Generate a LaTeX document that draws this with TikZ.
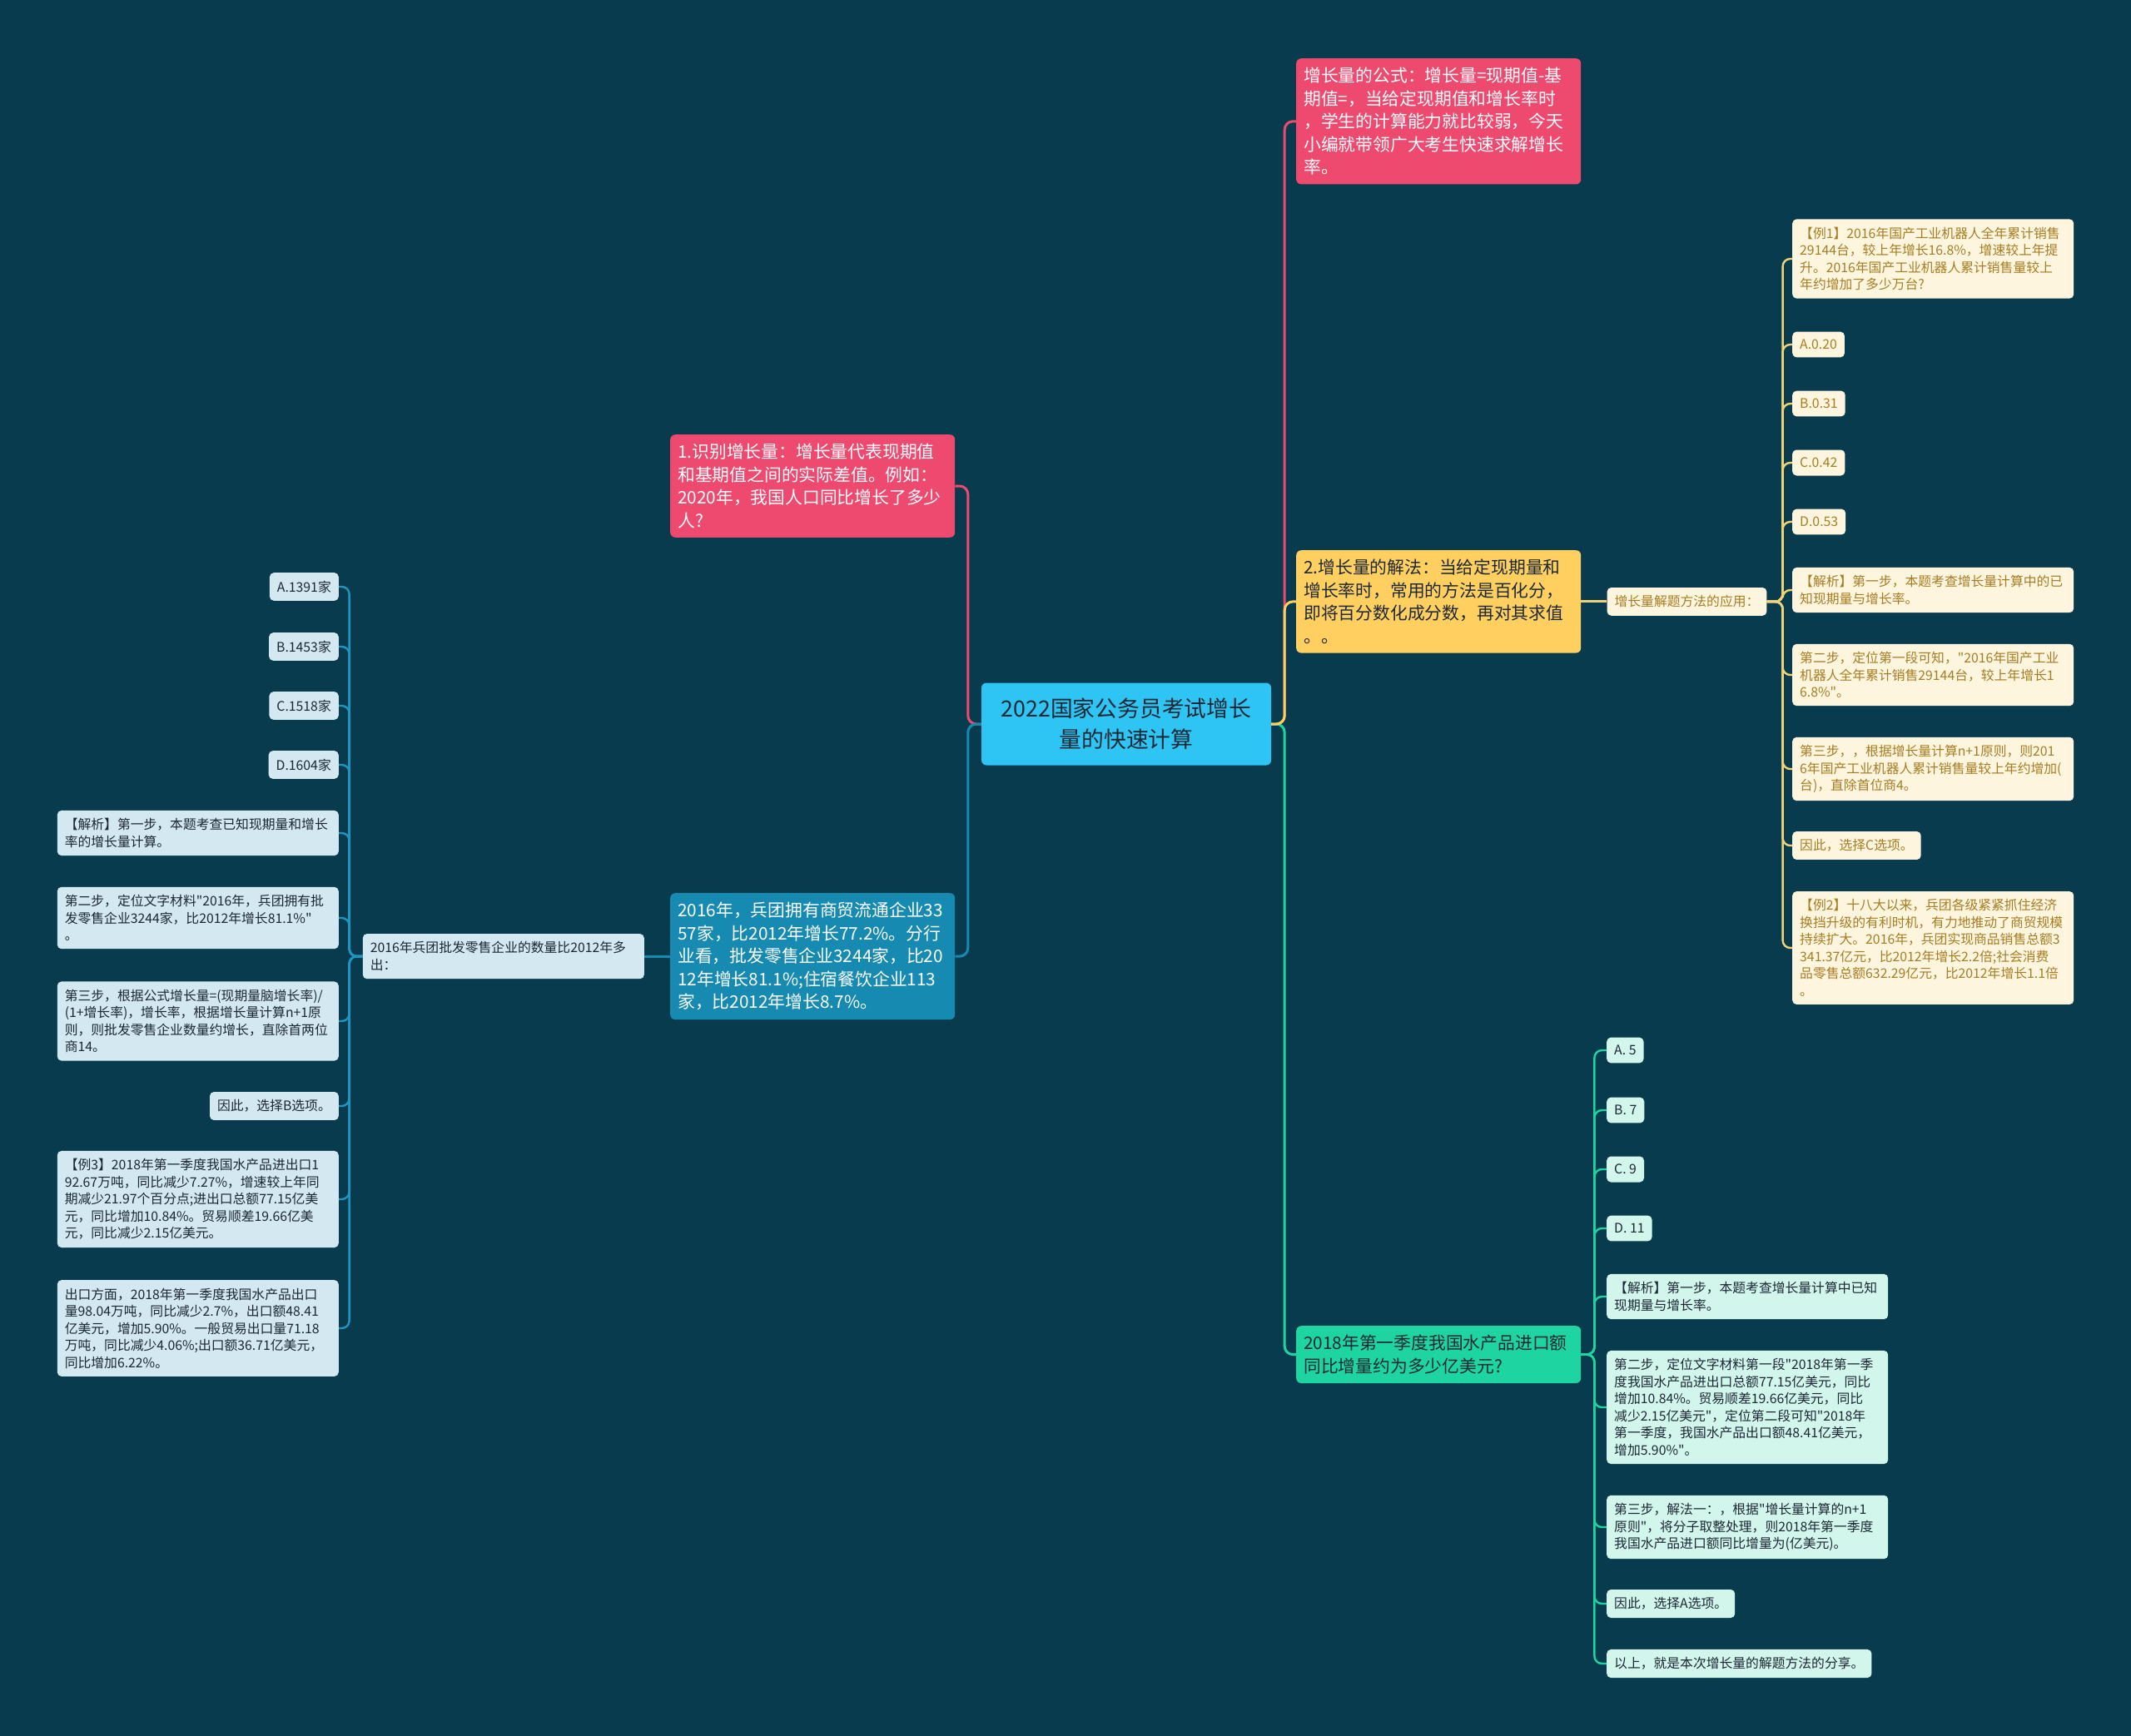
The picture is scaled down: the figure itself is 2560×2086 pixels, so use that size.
\documentclass[tikz,border=0pt]{standalone}
\usepackage{fontspec}
\setmainfont{Noto Sans CJK SC}[Ligatures=TeXOff]
\usepackage{xcolor}
\usepackage{tikz}
\usetikzlibrary{positioning}

\definecolor{bgc}{RGB}{8,59,77}
\definecolor{cCtr}{RGB}{46,196,243}
\definecolor{cRed}{RGB}{238,73,111}
\definecolor{cYel}{RGB}{255,207,96}
\definecolor{cBlu}{RGB}{22,138,177}
\definecolor{cGrn}{RGB}{30,212,160}
\definecolor{leafB}{RGB}{211,232,240}
\definecolor{leafY}{RGB}{254,245,222}
\definecolor{leafG}{RGB}{210,245,236}
\definecolor{inkD}{RGB}{28,40,52}
\definecolor{inkY}{RGB}{165,125,35}
\definecolor{lnB}{RGB}{30,150,195}
\definecolor{lnY}{RGB}{240,210,120}

\begin{document}
\begin{tikzpicture}[x=1pt,y=-1pt,
  lvone/.style={rounded corners=6pt,inner xsep=9pt,inner ysep=11pt,align=left,anchor=north west,text width=324pt,font=\fontsize{20.8}{27.5}\selectfont},
  leaf/.style={rounded corners=5pt,inner xsep=9pt,inner ysep=9.5pt,align=left,font=\fontsize{15.8}{20.5}\selectfont},
  wide/.style={leaf,text width=320pt},
  bleaf/.style={fill=leafB,text=inkD},
  yleaf/.style={fill=leafY,text=inkY},
  gleaf/.style={fill=leafG,text=inkD},
  link/.style={line width=3pt,rounded corners=10pt},
  twig/.style={line width=2.4pt,rounded corners=9pt}]
  \fill[bgc] (0,0) rectangle (2560,2086);
  \useasboundingbox (0,0) rectangle (2560,2086);

  % root
  \node[fill=cCtr,text=inkD,rounded corners=6pt,minimum width=348pt,minimum height=99pt,align=center,font=\fontsize{26.8}{37}\selectfont] (ctr) at (1353,870) {2022国家公务员考试增长\\量的快速计算};

  % left half
  \node[lvone,fill=cRed,text=white] (idf) at (805,522) {1.识别增长量：增长量代表现期值\\和基期值之间的实际差值。例如：\\2020年，我国人口同比增长了多少\\人?};
  \node[lvone,fill=cBlu,text=white] (fact) at (805,1073) {2016年，兵团拥有商贸流通企业33\\57家，比2012年增长77.2\%。分行\\业看，批发零售企业3244家，比20\\12年增长81.1\%;住宿餐饮企业113\\家，比2012年增长8.7\%。};
  \node[wide,bleaf,left=31pt of fact] (ask) {2016年兵团批发零售企业的数量比2012年多\\出：};

  \node[leaf,bleaf,anchor=east] (la) at (407,705) {A.1391家};
  \node[leaf,bleaf,anchor=east] (lb) at (407,777) {B.1453家};
  \node[leaf,bleaf,anchor=east] (lc) at (407,848) {C.1518家};
  \node[leaf,bleaf,anchor=east] (ld) at (407,919) {D.1604家};
  \node[wide,bleaf,anchor=east] (le) at (407,1001) {【解析】第一步，本题考查已知现期量和增长\\率的增长量计算。};
  \node[wide,bleaf,anchor=east] (lf) at (407,1103) {第二步，定位文字材料"2016年，兵团拥有批\\发零售企业3244家，比2012年增长81.1\%"\\。};
  \node[wide,bleaf,anchor=east] (lg) at (407,1227) {第三步，根据公式增长量=(现期量脑增长率)/\\(1+增长率)，增长率，根据增长量计算n+1原\\则，则批发零售企业数量约增长，直除首两位\\商14。};
  \node[leaf,bleaf,anchor=east] (lh) at (407,1329) {因此，选择B选项。};
  \node[wide,bleaf,anchor=east] (li) at (407,1441) {【例3】2018年第一季度我国水产品进出口1\\92.67万吨，同比减少7.27\%，增速较上年同\\期减少21.97个百分点;进出口总额77.15亿美\\元，同比增加10.84\%。贸易顺差19.66亿美\\元，同比减少2.15亿美元。};
  \node[wide,bleaf,anchor=east] (lj) at (407,1596) {出口方面，2018年第一季度我国水产品出口\\量98.04万吨，同比减少2.7\%，出口额48.41\\亿美元，增加5.90\%。一般贸易出口量71.18\\万吨，同比减少4.06\%;出口额36.71亿美元，\\同比增加6.22\%。};

  % right half
  \node[lvone,fill=cRed,text=white] (frm) at (1557,70) {增长量的公式：增长量=现期值-基\\期值=，当给定现期值和增长率时\\，学生的计算能力就比较弱，今天\\小编就带领广大考生快速求解增长\\率。};
  \node[lvone,fill=cYel,text=inkD] (sol) at (1557,661) {2.增长量的解法：当给定现期量和\\增长率时，常用的方法是百化分，\\即将百分数化成分数，再对其求值\\。。};
  \node[lvone,fill=cGrn,text=inkD] (exq) at (1557,1593) {2018年第一季度我国水产品进口额\\同比增量约为多少亿美元?};
  \node[leaf,yleaf,right=31pt of sol] (app) {增长量解题方法的应用：};

  \node[wide,yleaf,anchor=west] (ya) at (2153,311) {【例1】2016年国产工业机器人全年累计销售\\29144台，较上年增长16.8\%，增速较上年提\\升。2016年国产工业机器人累计销售量较上\\年约增加了多少万台?};
  \node[leaf,yleaf,anchor=west] (yb) at (2153,414) {A.0.20};
  \node[leaf,yleaf,anchor=west] (yc) at (2153,485) {B.0.31};
  \node[leaf,yleaf,anchor=west] (yd) at (2153,556) {C.0.42};
  \node[leaf,yleaf,anchor=west] (ye) at (2153,627) {D.0.53};
  \node[wide,yleaf,anchor=west] (yf) at (2153,709) {【解析】第一步，本题考查增长量计算中的已\\知现期量与增长率。};
  \node[wide,yleaf,anchor=west] (yg) at (2153,811) {第二步，定位第一段可知，"2016年国产工业\\机器人全年累计销售29144台，较上年增长1\\6.8\%"。};
  \node[wide,yleaf,anchor=west] (yh) at (2153,924) {第三步，，根据增长量计算n+1原则，则201\\6年国产工业机器人累计销售量较上年约增加(\\台)，直除首位商4。};
  \node[leaf,yleaf,anchor=west] (yi) at (2153,1016) {因此，选择C选项。};
  \node[wide,yleaf,anchor=west] (yj) at (2153,1139) {【例2】十八大以来，兵团各级紧紧抓住经济\\换挡升级的有利时机，有力地推动了商贸规模\\持续扩大。2016年，兵团实现商品销售总额3\\341.37亿元，比2012年增长2.2倍;社会消费\\品零售总额632.29亿元，比2012年增长1.1倍\\。};

  \node[leaf,gleaf,anchor=west] (ga) at (1930,1262) {A. 5};
  \node[leaf,gleaf,anchor=west] (gb) at (1930,1334) {B. 7};
  \node[leaf,gleaf,anchor=west] (gc) at (1930,1405) {C. 9};
  \node[leaf,gleaf,anchor=west] (gd) at (1930,1476) {D. 11};
  \node[wide,gleaf,anchor=west] (ge) at (1930,1558) {【解析】第一步，本题考查增长量计算中已知\\现期量与增长率。};
  \node[wide,gleaf,anchor=west] (gf) at (1930,1691) {第二步，定位文字材料第一段"2018年第一季\\度我国水产品进出口总额77.15亿美元，同比\\增加10.84\%。贸易顺差19.66亿美元，同比\\减少2.15亿美元"，定位第二段可知"2018年\\第一季度，我国水产品出口额48.41亿美元，\\增加5.90\%"。};
  \node[wide,gleaf,anchor=west] (gg) at (1930,1835) {第三步，解法一：，根据"增长量计算的n+1\\原则"，将分子取整处理，则2018年第一季度\\我国水产品进口额同比增量为(亿美元)。};
  \node[leaf,gleaf,anchor=west] (gh) at (1930,1927) {因此，选择A选项。};
  \node[leaf,gleaf,anchor=west] (gi) at (1930,1999) {以上，就是本次增长量的解题方法的分享。};

  % connectors
  \draw[link,cRed] (ctr.west) -- ++(-16,0) |- (idf.east);
  \draw[link,cBlu] (ctr.west) -- ++(-16,0) |- (fact.east);
  \draw[link,cBlu] (fact.west) -- (ask.east);
  \foreach \n in {la,lb,lc,ld,le,lf,lg,lh,li,lj}
    \draw[twig,lnB] (ask.west) -- ++(-16,0) |- (\n.east);

  \draw[link,cRed] (ctr.east) -- ++(16,0) |- (frm.west);
  \draw[link,cGrn] (ctr.east) -- ++(16,0) |- (exq.west);
  \draw[link,cYel] (ctr.east) -- ++(16,0) |- (sol.west);
  \draw[link,lnY] (sol.east) -- (app.west);
  \foreach \n in {ya,yb,yc,yd,ye,yf,yg,yh,yi,yj}
    \draw[twig,lnY] (app.east) -- ++(19,0) |- (\n.west);
  \foreach \n in {ga,gb,gc,gd,ge,gf,gg,gh,gi}
    \draw[twig,cGrn] (exq.east) -- ++(16,0) |- (\n.west);
\end{tikzpicture}
\end{document}
